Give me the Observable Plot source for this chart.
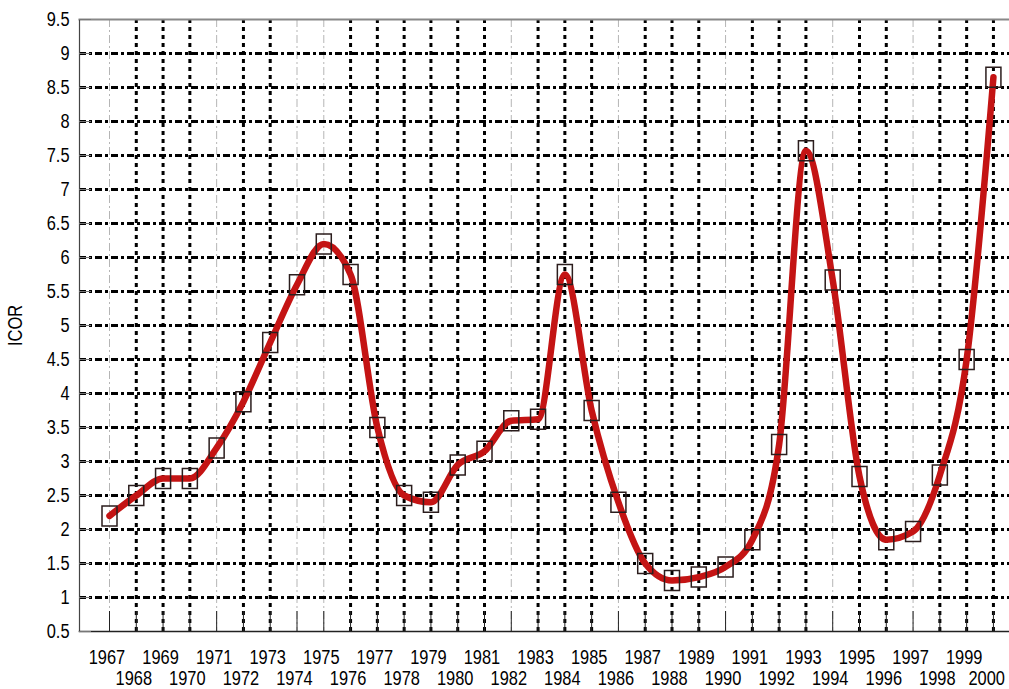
<!DOCTYPE html>
<html><head><meta charset="utf-8">
<script src="https://cdn.jsdelivr.net/npm/d3@7"></script>
<script src="https://cdn.jsdelivr.net/npm/@observablehq/plot@0.6"></script>
<style>
html,body{margin:0;padding:0;background:#fff;}
</style>
</head><body><div id="chart"></div>
<script>
const years = [1967,1968,1969,1970,1971,1972,1973,1974,1975,1976,1977,1978,1979,1980,1981,1982,1983,1984,1985,1986,1987,1988,1989,1990,1991,1992,1993,1994,1995,1996,1997,1998,1999,2000];
const icor = [2.2,2.5,2.75,2.75,3.2,3.88,4.75,5.6,6.2,5.75,3.5,2.5,2.4,2.95,3.15,3.6,3.62,5.75,3.75,2.4,1.5,1.25,1.3,1.45,1.85,3.25,7.57,5.67,2.78,1.85,1.97,2.8,4.5,8.65];
const yTicks = [0.5,1,1.5,2,2.5,3,3.5,4,4.5,5,5.5,6,6.5,7,7.5,8,8.5,9,9.5];
const yGrid = [1,1.5,2,2.5,3,3.5,4,4.5,5,5.5,6,6.5,7,7.5,8,8.5,9];
const lightGridYears = [1967,1971,1974,1975,1982,1986,1990,1994,1997];
const yLabel = "ICOR";

const darkGridYears = years.filter(y => !lightGridYears.includes(y));
const oddYears = years.filter(y => y % 2 === 1);
const evenYears = years.filter(y => y % 2 === 0);
const data = years.map((year, i) => ({year, value: icor[i]}));

const boxSymbol = {
  draw(ctx) {
    ctx.moveTo(-7.5, -10);
    ctx.lineTo(7.5, -10);
    ctx.lineTo(7.5, 10);
    ctx.lineTo(-7.5, 10);
    ctx.closePath();
  }
};

const chart = Plot.plot({
  width: 1009,
  height: 689,
  marginLeft: 79,
  marginRight: 0,
  marginTop: 19,
  marginBottom: 58,
  style: {fontFamily: "'Liberation Sans Narrow','Arial Narrow','Liberation Sans',Arial,sans-serif", fontSize: "20px", color: "#000", background: "#fff"},
  x: {domain: [years[0] - 1.12, years[years.length - 1] + 0.6]},
  y: {domain: [yTicks[0], yTicks[yTicks.length - 1]]},
  marks: [
    Plot.ruleX(lightGridYears, {stroke: "#b5b5b5", strokeWidth: 1, strokeDasharray: "8,3,2,3"}),
    Plot.ruleX(darkGridYears, {stroke: "#000", strokeWidth: 3, strokeDasharray: "4,4"}),
    Plot.ruleY(yGrid, {stroke: "#000", strokeWidth: 3, strokeDasharray: "7,3,3,3"}),
    Plot.frame({anchor: "top", stroke: "#888", strokeWidth: 2}),
    Plot.frame({anchor: "left", stroke: "#444", strokeWidth: 1.2}),
    Plot.frame({anchor: "bottom", stroke: "#222", strokeWidth: 1.5}),
    Plot.axisY(yTicks, {tickSize: -12, tickPadding: 22, stroke: "#777", tickFormat: d => String(d), label: yLabel, labelAnchor: "center", labelArrow: "none", labelOffset: 72}),
    Plot.axisX(years, {tickSize: -20, fill: "none", stroke: "#222", label: null}),
    Plot.axisX(oddYears, {tickSize: 0, tickPadding: 18, dx: -2.5, tickFormat: d => String(d), label: null}),
    Plot.axisX(evenYears, {tickSize: 0, tickPadding: 39, dx: -2.5, tickFormat: d => String(d), label: null}),
    Plot.line(data, {x: "year", y: "value", stroke: "#c41414", strokeWidth: 6.5, curve: "monotone-x"}),
    Plot.dot(data, {x: "year", y: "value", symbol: boxSymbol, r: 10, fill: "none", stroke: "#2b1d1d", strokeWidth: 1.5})
  ]
});
document.getElementById("chart").appendChild(chart);
// emulate a narrow face: compress each label horizontally (Liberation Sans -> Narrow width ratio)
const lastYear = String(years[years.length - 1]);
chart.querySelectorAll("text").forEach(t => {
  const w = t.getComputedTextLength();
  if (w > 0) {
    t.setAttribute("textLength", (w * 0.82).toFixed(1));
    t.setAttribute("lengthAdjust", "spacingAndGlyphs");
  }
  if (t.textContent === lastYear) {
    // keep the last label inside the right edge, as in the reference
    t.setAttribute("text-anchor", "end");
    t.setAttribute("x", "14");
  }
});
</script>
</body></html>
